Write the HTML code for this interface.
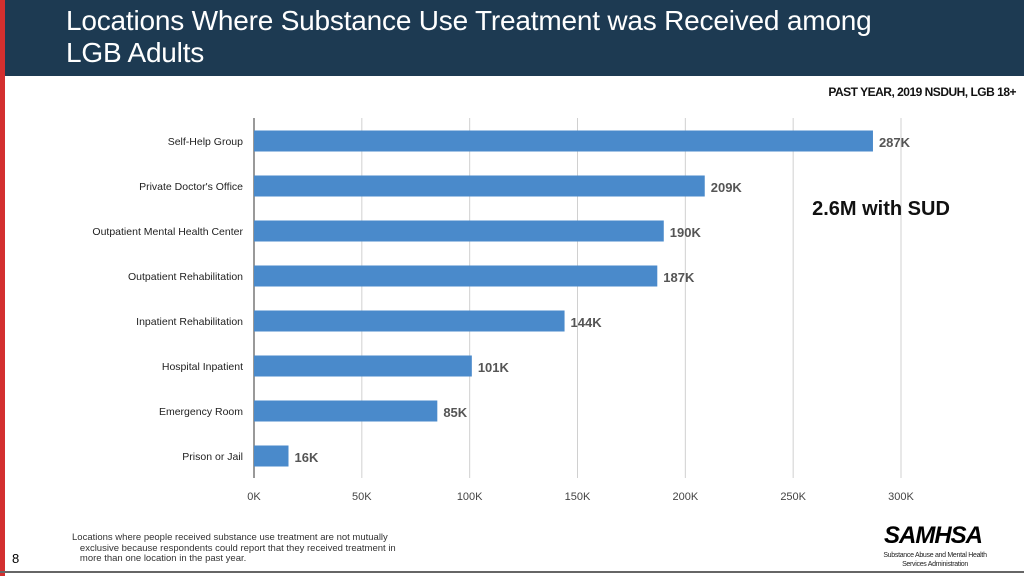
<!DOCTYPE html>
<html><head><meta charset="utf-8"><style>
body{margin:0;width:1024px;height:576px;overflow:hidden;background:#fff;font-family:"Liberation Sans",sans-serif;position:relative}
.hdr{position:absolute;left:0;top:0;width:1024px;height:76px;background:#1d3a52}
.red{position:absolute;left:0;top:0;width:5px;height:576px;background:#d32f2f}
.title{position:absolute;left:66px;top:5px;color:#fff;font-size:28px;line-height:32px;font-weight:normal;letter-spacing:-0.2px}
.sub{position:absolute;right:8px;top:85px;font-size:12px;font-weight:bold;color:#111;letter-spacing:-0.5px}
.note{position:absolute;left:72px;top:533px;font-size:9.5px;line-height:10.5px;color:#333;width:340px}
.num{position:absolute;left:12px;top:551px;font-size:13px}
.logo{position:absolute;left:884px;top:522px;font-size:24px;font-weight:bold;font-style:italic;letter-spacing:-1px}
.logo2{position:absolute;left:870px;top:551px;font-size:7px;text-align:center;width:130px;line-height:9px;color:#222;letter-spacing:-0.3px;white-space:nowrap}
.bline{position:absolute;left:0;top:571px;width:1024px;height:2px;background:#666}
</style></head><body>
<div class="hdr"></div>
<div class="red"></div>
<div class="title">Locations Where Substance Use Treatment was Received among<br>LGB Adults</div>
<div class="sub">PAST YEAR, 2019 NSDUH, LGB 18+</div>
<svg id="chart" width="1024" height="576" style="position:absolute;left:0;top:0"></svg>
<div class="note">Locations where people received substance use treatment are not mutually<br>&nbsp;&nbsp;&nbsp;exclusive because respondents could report that they received treatment in<br>&nbsp;&nbsp;&nbsp;more than one location in the past year.</div>
<div class="num">8</div>
<div class="logo">SAMHSA</div>
<div class="logo2">Substance Abuse and Mental Health<br>Services Administration</div>
<div class="bline"></div>
<script>
const categories=["Self-Help Group","Private Doctor's Office","Outpatient Mental Health Center","Outpatient Rehabilitation","Inpatient Rehabilitation","Hospital Inpatient","Emergency Room","Prison or Jail"];
const values=[287,209,190,187,144,101,85,16];
const ticks=[0,50,100,150,200,250,300];
const tickLabels=["0K","50K","100K","150K","200K","250K","300K"];
const NS="http://www.w3.org/2000/svg";
const svg=document.getElementById('chart');
const x0=254,x1=901,xmax=300,yTop=118,yBot=478,y0=141,step=45,bh=21;
const xs=v=>x0+(v/xmax)*(x1-x0);
const ys=i=>y0+i*step;
function mk(t,a){const e=document.createElementNS(NS,t);for(const k in a)e.setAttribute(k,a[k]);svg.appendChild(e);return e;}
ticks.forEach((t,i)=>{
 const g=mk('line',{x1:xs(t),x2:xs(t),y1:yTop,y2:yBot,stroke:i==0?'#333':'#d0d0d0','stroke-width':1});
 
 
 const l=mk('text',{x:xs(t),y:500,'text-anchor':'middle','font-size':11,fill:'#444'});
 l.textContent=tickLabels[i];
 
 
});
categories.forEach((c,i)=>{
 const r=mk('rect',{x:x0,y:ys(i)-bh/2,width:xs(values[i])-x0,height:bh,fill:'#4a8acb'});
 
 
 const l=mk('text',{x:243,y:ys(i)+4,'text-anchor':'end','font-size':10.5,fill:'#222'});
 l.textContent=c;
 
 
 const v=mk('text',{x:xs(values[i])+6,y:ys(i)+6,'font-size':13,'font-weight':'bold',fill:'#555'});
 v.textContent=values[i]+'K';
 
 
});
const a=mk('text',{x:881,y:215,'text-anchor':'middle','font-size':20,'font-weight':'bold',fill:'#111'});
a.textContent='2.6M with SUD';


</script>
</body></html>
